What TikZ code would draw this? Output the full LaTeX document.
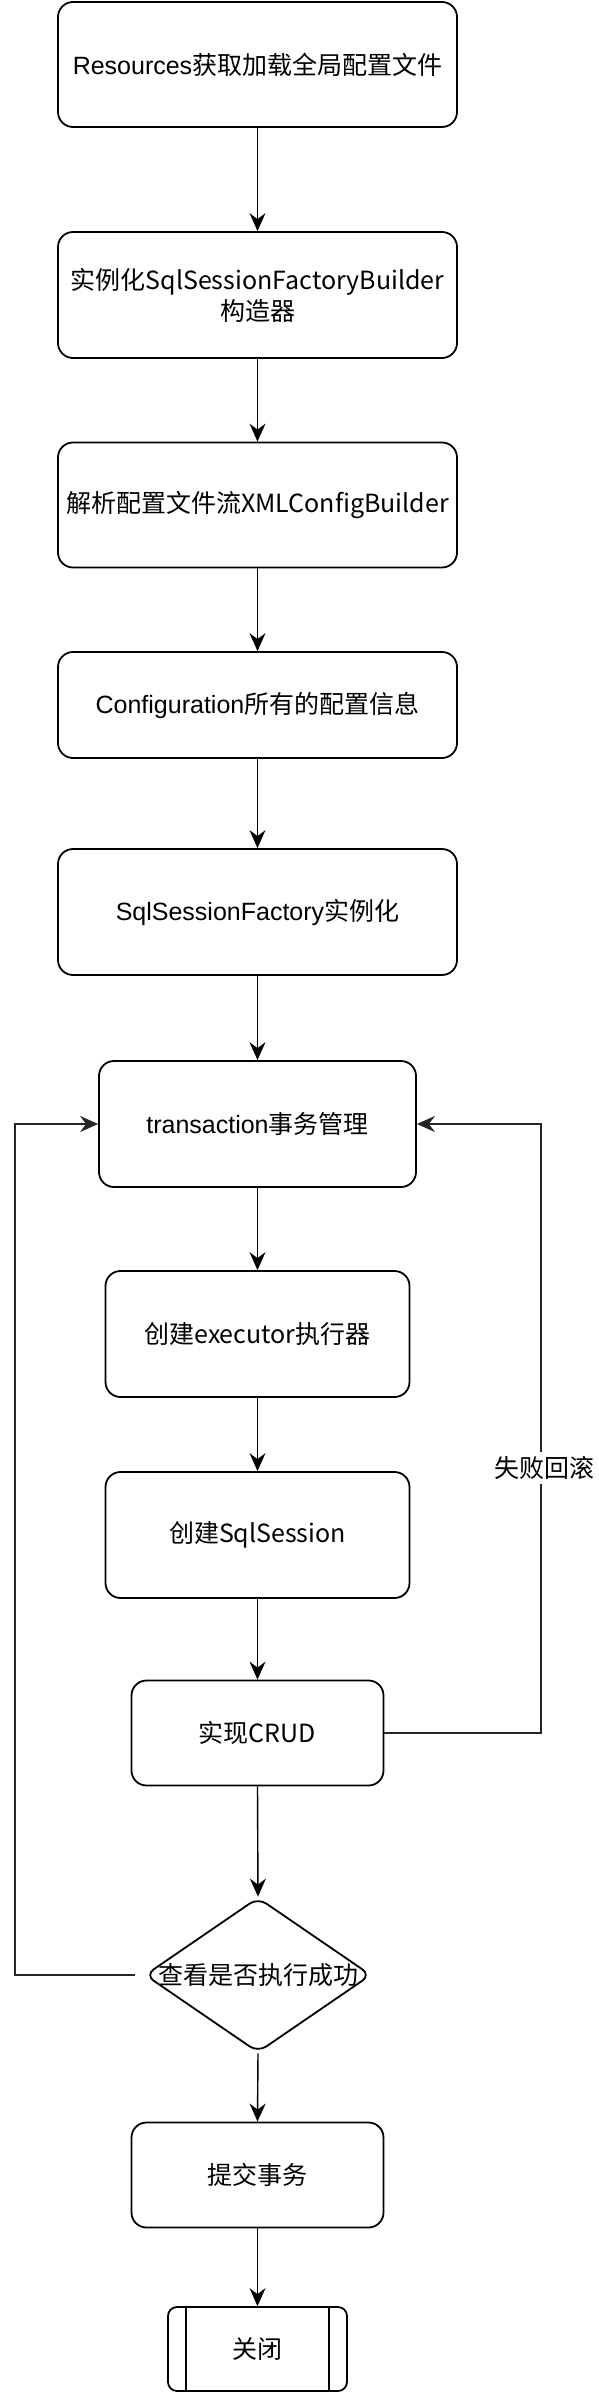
\documentclass[tikz,border=0pt]{standalone}
\usepackage{fontspec}
\setmainfont{Liberation Sans}
\newfontfamily\cjk{Noto Sans CJK SC}
\usetikzlibrary{arrows.meta,shapes.geometric}
\begin{document}
\begin{tikzpicture}[x=1pt,y=-1pt,
  txt/.style={font=\fontsize{25}{31}\selectfont},
  box/.style={draw, line width=1.8pt, rounded corners=15pt, align=center, inner sep=0pt, txt},
  arr/.style={-{Stealth[length=18pt,width=16pt,inset=6pt]}, line width=1.4pt},
  loopline/.style={arr, draw=black!85},
]
\fill[white] (0,0) rectangle (599,2392);
\useasboundingbox (0,0) rectangle (599,2392);

\node[box, minimum width=399pt, minimum height=125pt] (b1) at (257.5,64.5) {Resources\cjk{获取加载全局配置文件}};
\node[box, minimum width=399pt, minimum height=126pt] (b2) at (257.5,295) {\cjk{实例化}SqlSessionFactoryBuilder\\\cjk{构造器}};
\node[box, minimum width=399pt, minimum height=125pt] (b3) at (257.5,505) {\cjk{解析配置文件流}XMLConfigBuilder};
\node[box, minimum width=399pt, minimum height=106pt] (b4) at (257.5,705) {Configuration\cjk{所有的配置信息}};
\node[box, minimum width=399pt, minimum height=126pt] (b5) at (257.5,912) {SqlSessionFactory\cjk{实例化}};
\node[box, minimum width=317pt, minimum height=126pt] (b6) at (257.5,1124) {transaction\cjk{事务管理}};
\node[box, minimum width=304pt, minimum height=126pt] (b7) at (257.5,1334) {\cjk{创建}executor\cjk{执行器}};
\node[box, minimum width=304pt, minimum height=126pt] (b8) at (257.5,1535) {\cjk{创建}SqlSession};
\node[box, minimum width=252pt, minimum height=105pt] (b9) at (257.5,1733) {\cjk{实现}CRUD};
\node[diamond, draw, line width=1.8pt, rounded corners=10pt, minimum width=226pt, minimum height=155pt, inner sep=0pt] (d) at (258,1975) {};
\node[txt] (dt) at (d.center) {\cjk{查看是否执行成功}};
\node[box, minimum width=252pt, minimum height=105pt] (b10) at (257.5,2175) {\cjk{提交事务}};
\node[box, rounded corners=9pt, minimum width=179pt, minimum height=84pt] (b11) at (257.5,2349) {\cjk{关闭}};
\draw[line width=1.5pt] ([xshift=19pt]b11.north west) -- ([xshift=19pt]b11.south west);
\draw[line width=1.5pt] ([xshift=-19pt]b11.north east) -- ([xshift=-19pt]b11.south east);

\draw[arr] (b1) -- (b2);
\draw[arr] (b2) -- (b3);
\draw[arr] (b3) -- (b4);
\draw[arr] (b4) -- (b5);
\draw[arr] (b5) -- (b6);
\draw[arr] (b6) -- (b7);
\draw[arr] (b7) -- (b8);
\draw[arr] (b8) -- (b9);
\draw[arr] (b9.south) -- (d.north);
\draw[arr] (d.south) -- (b10.north);
\draw[arr] (b10) -- (b11);

\coordinate (rr) at (541,1124);
\coordinate (ll) at (15,1124);
\draw[loopline] (b9.east) -| (rr) -- (b6.east);
\draw[loopline, shorten <=9pt] (d.west) -| (ll) -- (b6.west);
\node[txt, fill=white, inner xsep=1pt, inner ysep=4pt] (lbl) at (544,1468) {\cjk{失败回滚}};
\end{tikzpicture}
\end{document}
